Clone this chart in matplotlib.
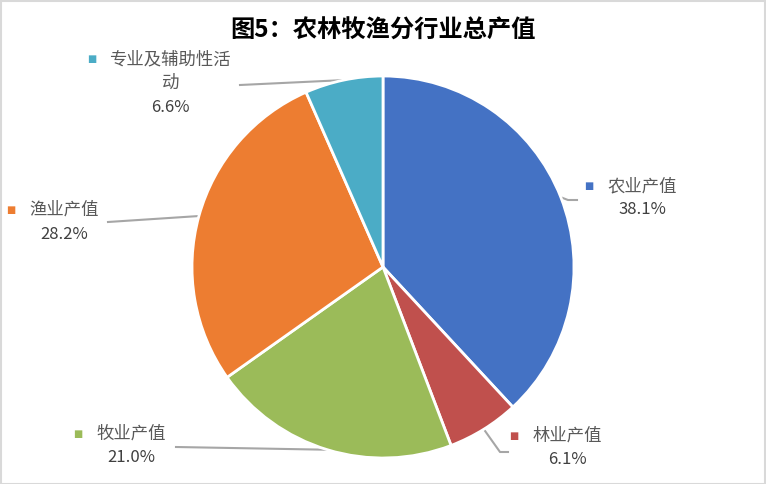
import numpy as np
import matplotlib.pyplot as plt
from matplotlib.patches import Rectangle

plt.rcParams['font.family'] = ['Noto Sans CJK SC', 'DejaVu Sans']

# data
categories = ['农业产值', '林业产值', '牧业产值', '渔业产值', '专业及辅助性活动']
shares = [38.1, 6.1, 21.0, 28.2, 6.6]
label_names = ['农业产值', '林业产值', '牧业产值', '渔业产值', '专业及辅助性活\n动']
colors = ['#4472C4', '#C0504D', '#9BBB59', '#ED7D31', '#4BACC6']

W, H = 766, 484
cx, cy, r = 383, 267, 191

# label centres (pixel) and leader-line end points (pixel)
label_pos = [(642, 186), (567, 436), (131, 434), (64, 210), (170, 59)]
leader_end = [[(568, 200), (577, 200)], [(500, 452), (508, 452)],
              [(176, 447)], [(108, 222)], [(240, 85)]]

fig = plt.figure(figsize=(W / 100, H / 100), dpi=100)
ax = fig.add_axes([(cx - r) / W, (H - cy - r) / H, 2 * r / W, 2 * r / H])
wedges, _ = ax.pie(shares, colors=colors, startangle=90, counterclock=False,
                   radius=1, wedgeprops=dict(edgecolor='white', linewidth=2))
ax.set_xlim(-1, 1)
ax.set_ylim(-1, 1)
ax.set_aspect('equal')
ax.axis('off')

def px2d(p):
    return ((p[0] - cx) / r, (cy - p[1]) / r)

for i, w in enumerate(wedges):
    mid = np.deg2rad((w.theta1 + w.theta2) / 2)
    pts = [(np.cos(mid), np.sin(mid))] + [px2d(p) for p in leader_end[i]]
    xs, ys = zip(*pts)
    ax.plot(xs, ys, color='#A6A6A6', lw=1.5, clip_on=False, zorder=0)

    lx, ly = label_pos[i]
    lines = label_names[i].split('\n')
    for k, line in enumerate(lines):
        fig.text(lx / W, 1 - (ly + 24 * k) / H, line, ha='center', va='center',
                 fontsize=12.5, color='#595959')
    half = len(lines[0]) * 16.5 / 2
    fig.text((lx - half - 20) / W, 1 - ly / H, '■', ha='center', va='center',
             fontsize=7, color=colors[i], family='DejaVu Sans')
    fig.text(lx / W, 1 - (ly + 24 * len(lines)) / H, f'{shares[i]:.1f}%',
             ha='center', va='center', fontsize=12, color='#404040')

fig.text(0.5, 1 - 31 / H, '图5：农林牧渔分行业总产值', ha='center', va='center',
         fontsize=17.5, fontweight='bold', color='black')

fig.patches.append(Rectangle((0.5 / W, 0.5 / H), 1 - 1.5 / W, 1 - 1.5 / H,
                             transform=fig.transFigure, fill=False,
                             edgecolor='#D9D9D9', lw=1.5))

fig.savefig('out.png', dpi=100)
